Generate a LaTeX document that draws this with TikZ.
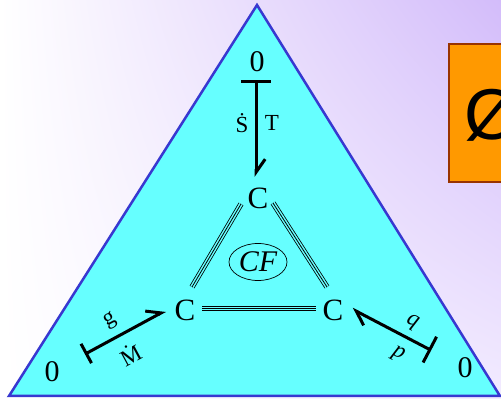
\documentclass[tikz,border=0pt]{standalone}
\usepackage{fontspec}
\setmainfont{Liberation Serif}
\newfontfamily\symsans{Liberation Sans}
\usetikzlibrary{arrows.meta,shapes.geometric,calc,shadings}
\definecolor{tricyan}{HTML}{66FFFF}
\definecolor{triblue}{HTML}{3838D0}
\definecolor{boxorange}{HTML}{FF9900}
\definecolor{boxbrown}{HTML}{993300}
\definecolor{lavtop}{HTML}{D3BCFA}
\definecolor{lavlow}{HTML}{F2EBFF}
\tikzset{
  zero/.style={inner sep=0pt, font=\fontsize{30}{36}\selectfont},
  cnode/.style={inner sep=0pt, font=\fontsize{31}{36}\selectfont},
  lbl/.style={inner sep=0pt, font=\fontsize{23}{28}\selectfont},
  triple/.style={line width=0.8pt, double=tricyan, double distance=3.8pt},
  single/.style={line width=0.8pt},
  harp/.style={line width=3pt, line cap=round,
    {Bar[width=#1]}-{Straight Barb[left,angle=70:16pt]}},
}
\begin{document}
\begin{tikzpicture}[x=1pt,y=1pt]
\useasboundingbox (0,0) rectangle (501,399);
\clip (0,0) rectangle (501,399);
% background
\shade[upper left=white, upper right=lavtop, lower left=white, lower right=lavlow]
  (0,0) rectangle (501,399);
% orange box
\draw[line width=2pt, draw=boxbrown, fill=boxorange] (449,217) rectangle (530,355);
\node[inner sep=0pt, anchor=base west, font=\symsans\fontsize{72}{80}\selectfont] (empty) at (464,259) {Ø};
% triangle
\draw[line width=2.5pt, draw=triblue, fill=tricyan, line join=miter] (257,394) -- (9,3) -- (500,3) -- cycle;
% nodes
\node[zero] (zT) at (257,337) {0};
\node[zero] (zL) at (52,27) {0};
\node[zero] (zR) at (465,31) {0};
\node[cnode] (cT) at (258,201) {C};
\node[cnode] (cL) at (185,89) {C};
\node[cnode] (cR) at (333,89) {C};
\node[draw, ellipse, line width=0.7pt, minimum width=58pt, minimum height=37pt, inner sep=0pt,
  font=\itshape\fontsize{30}{36}\selectfont] (cf) at (258,137) {CF};
% triple bonds
\draw[triple] ($(cT)+(-17,-6)$) -- ($(cL)+(7,23)$);
\draw[single] ($(cT)+(-17,-6)$) -- ($(cL)+(7,23)$);
\draw[triple] ($(cT)+(15,-5)$) -- ($(cR)+(-6,23)$);
\draw[single] ($(cT)+(15,-5)$) -- ($(cR)+(-6,23)$);
\draw[triple] ($(cL)+(17,1.5)$) -- ($(cR)+(-17,1.5)$);
\draw[single] ($(cL)+(17,1.5)$) -- ($(cR)+(-17,1.5)$);
% arrows
\draw[harp=30pt, shorten <=18pt, shorten >=21pt] ($(zT)+(-1,0)$) -- ($(cT)+(-2,0)$);
\draw[harp=22pt, shorten <=28.7pt, shorten >=22.4pt] (zL) -- ($(cL)+(0,10)$);
\draw[harp=29pt, shorten <=29.5pt, shorten >=21.5pt] (zR) -- ($(cR)+(0,11)$);
% labels
\node[lbl] (lS) at (242,276) {\.{S}};
\node[lbl] (lT) at (272,276) {T};
\node[lbl, rotate=28.4] (lg) at (110,78) {g};
\node[lbl, rotate=28.4] (lM) at (130,45) {\.{M}};
\node[lbl, rotate=-27.3] (lq) at (412,77) {\textit{q}};
\node[lbl, rotate=-27.3] (lp) at (398,45) {\textit{p}};
\end{tikzpicture}
\end{document}
